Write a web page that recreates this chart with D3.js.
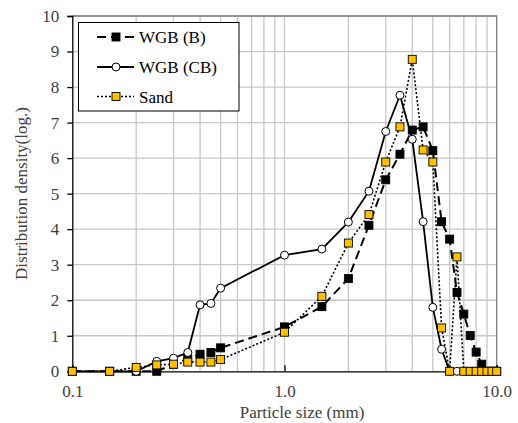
<!DOCTYPE html>
<html><head><meta charset="utf-8">
<script src="https://cdn.jsdelivr.net/npm/d3@7"></script>
<style>body{margin:0;background:#fff}svg{display:block}</style>
</head><body>
<script>
const sizes = [0.1,0.15,0.2,0.25,0.3,0.35,0.4,0.45,0.5,1.0,1.5,2.0,2.5,3.0,3.5,4.0,4.5,5.0,5.5,6.0,6.5,7.0,7.5,8.0,8.5,9.0,9.5,10.0];
const wgbB  = [0,0,0,0,0.2,0.35,0.48,0.53,0.66,1.25,1.82,2.61,4.11,5.39,6.11,6.79,6.88,6.21,4.21,3.72,2.22,1.61,1.01,0.54,0.2,0,0,0];
const wgbCB = [0,0,0,0.28,0.37,0.53,1.87,1.91,2.34,3.27,3.44,4.2,5.07,6.75,7.77,6.53,4.21,1.8,0.62,0,0,0,0,0,0,0,0,0];
const sand  = [0,0,0.11,0.18,0.2,0.26,0.26,0.26,0.33,1.1,2.11,3.61,4.41,5.89,6.88,8.78,6.23,5.89,1.22,0,3.22,0,0,0,0,0,0,0];
const yTicks = [0,1,2,3,4,5,6,7,8,9,10];
const xTicks = [0.1,1,10];
const xTickLabels = ["0.1","1.0","10.0"];
const seriesNames = ["WGB (B)","WGB (CB)","Sand"];

const W=518,H=423;
const m={l:72.3,r:518-496.7,t:16,b:423-371.3};
const svg=d3.select("body").append("svg").attr("width",W).attr("height",H);
const x=d3.scaleLog().domain([0.1,10]).range([m.l,W-m.r]);
const y=d3.scaleLinear().domain([0,10]).range([H-m.b,m.t]);
const txt="#404040";
function serif(sel){ return sel.attr("font-size",null).attr("font-family",null).style("font",'17px "Liberation Serif"'); }

const minor=[];
[0.1,1].forEach(d=>{for(let k=2;k<=9;k++)minor.push(d*k);});
minor.push(1);
svg.append("g").selectAll("line").data(minor).join("line")
  .attr("x1",d=>x(d)).attr("x2",d=>x(d)).attr("y1",y(0)).attr("y2",y(10))
  .attr("stroke","#c8c8c8").attr("stroke-width",1.3);
svg.append("g").selectAll("line").data(yTicks.slice(1)).join("line")
  .attr("x1",x(0.1)).attr("x2",x(10)).attr("y1",d=>y(d)).attr("y2",d=>y(d))
  .attr("stroke","#c8c8c8").attr("stroke-width",1.3);
svg.append("path").attr("d",`M${x(0.1)},${y(10)}H${x(10)}V${y(0)}`)
  .attr("fill","none").attr("stroke","#7f7f7f").attr("stroke-width",1.3);

const ya=svg.append("g").attr("transform",`translate(${x(0.1)},0)`)
  .call(d3.axisLeft(y).tickValues(yTicks).tickSize(5).tickPadding(8).tickFormat(d3.format("d")));
const xa=svg.append("g").attr("transform",`translate(0,${y(0)})`)
  .call(d3.axisBottom(x).tickValues(xTicks).tickSize(-6).tickPadding(14).tickFormat((d,i)=>xTickLabels[i]));
[ya,xa].forEach(g=>{
  serif(g);
  g.select(".domain").attr("stroke","#000").attr("stroke-width",1.3);
  g.selectAll(".tick line").attr("stroke","#000").attr("stroke-width",1.3);
  serif(g.selectAll("text")).attr("fill",txt);
});

serif(svg.append("text")).attr("x",302).attr("y",418).attr("text-anchor","middle")
  .attr("fill",txt).text("Particle size (mm)");
serif(svg.append("text")).attr("transform",`translate(27,${193.5}) rotate(-90)`).attr("text-anchor","middle")
  .attr("fill",txt).text("Distribution density(log.)");

const line=d3.line().x(d=>x(d[0])).y(d=>y(d[1]));
const styles=[
  {vals:wgbB, dash:"9,5", w:2, marker:"sq", fill:"#000"},
  {vals:wgbCB, dash:null, w:1.8, marker:"ci", fill:"#fff"},
  {vals:sand, dash:"2,2", w:1.6, marker:"sq", fill:"#FFC000"}
];
const g=svg.append("g");
styles.forEach(s=>{
  const pts=sizes.map((v,i)=>[v,s.vals[i]]);
  g.append("path").attr("d",line(pts)).attr("fill","none").attr("stroke","#000")
    .attr("stroke-width",s.w).attr("stroke-dasharray",s.dash);
});
styles.forEach(s=>{
  const pts=sizes.map((v,i)=>[v,s.vals[i]]);
  drawMarkers(g,pts.map(p=>[x(p[0]),y(p[1])]),s);
});
function drawMarkers(sel,pts,s){
  if(s.marker==="sq"){
    sel.append("g").selectAll("rect").data(pts).join("rect")
      .attr("x",d=>d[0]-4).attr("y",d=>d[1]-4).attr("width",8).attr("height",8)
      .attr("fill",s.fill).attr("stroke","#000").attr("stroke-width",0.9);
  } else {
    sel.append("g").selectAll("circle").data(pts).join("circle")
      .attr("cx",d=>d[0]).attr("cy",d=>d[1]).attr("r",4)
      .attr("fill",s.fill).attr("stroke","#000").attr("stroke-width",1);
  }
}

const lg=svg.append("g");
lg.append("rect").attr("x",78.5).attr("y",22.5).attr("width",160.5).attr("height",88.5)
  .attr("fill","#fff").attr("stroke","#000").attr("stroke-width",1);
const rowsY=[37,67,96.5];
styles.forEach((s,i)=>{
  const yy=rowsY[i];
  lg.append("line").attr("x1",97).attr("x2",134).attr("y1",yy).attr("y2",yy)
    .attr("stroke","#000").attr("stroke-width",s.w).attr("stroke-dasharray",s.dash);
  drawMarkers(lg,[[116,yy]],s);
  serif(lg.append("text")).attr("x",139).attr("y",yy+6)
    .attr("fill","#000").text(seriesNames[i]);
});
</script>
</body></html>
